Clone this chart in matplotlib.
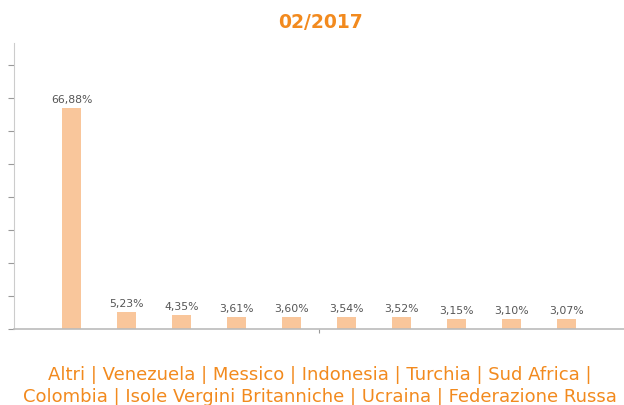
import matplotlib.pyplot as plt
import numpy as np

paesi = ['Altri', 'Venezuela', 'Messico', 'Indonesia', 'Turchia', 'Sud Africa',
         'Colombia', 'Isole Vergini Britanniche', 'Ucraina', 'Federazione Russa']
quote = [66.88, 5.23, 4.35, 3.61, 3.60, 3.54, 3.52, 3.15, 3.10, 3.07]
etichette = ['66,88%', '5,23%', '4,35%', '3,61%', '3,60%', '3,54%', '3,52%', '3,15%', '3,10%', '3,07%']

arancio = '#f28a1e'

fig = plt.figure(figsize=(6.24, 4.06), dpi=100)
ax = fig.add_axes([14/624, 76/406, 1 - 14/624, 286/406])

x = np.arange(len(quote))
bars = ax.bar(x, quote, width=0.34, color='#f9c69b')
for b, t in zip(bars, etichette):
    ax.text(b.get_x() + b.get_width()/2, b.get_height() + 1.2, t,
            ha='center', va='bottom', fontsize=7.8, color='#555555')

ax.set_xlim(-1.05, 10.05)
ax.set_ylim(0, 86.7)
ax.set_yticks(np.arange(0, 81, 10))
ax.set_yticklabels([])
ax.set_xticks([4.5])
ax.set_xticklabels([])
ax.tick_params(axis='y', length=4, color='#999999', width=0.8)
ax.tick_params(axis='x', length=3, color='#999999', width=0.8)
for s in ['top', 'right']:
    ax.spines[s].set_visible(False)
ax.spines['left'].set_color('#cccccc')
ax.spines['bottom'].set_color('#bbbbbb')
ax.spines['bottom'].set_linewidth(1.2)

fig.text(0.513, 1 - 22/406, '02/2017', ha='center', va='center',
         fontsize=13.5, fontweight='bold', color=arancio)
righe = ' | '.join(paesi[:6]) + ' |\n' + ' | '.join(paesi[6:])
fig.text(0.513, 1 - 386/406, righe, ha='center', va='center',
         fontsize=13, color=arancio, linespacing=1.3)

fig.savefig('out.png', dpi=100)
